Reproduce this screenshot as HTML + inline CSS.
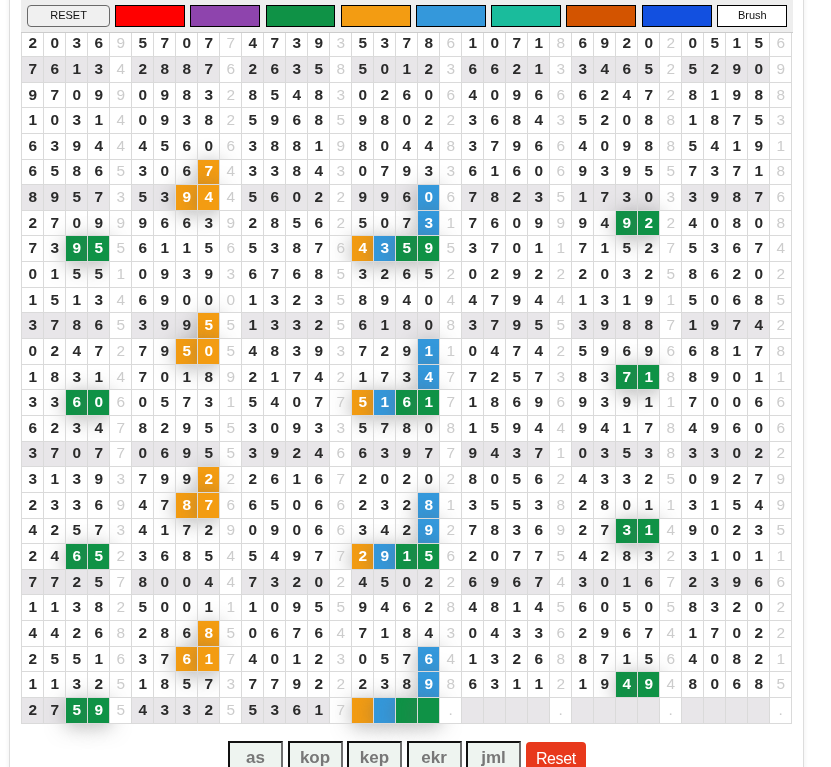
<!DOCTYPE html>
<html lang="en">
<head>
<meta charset="utf-8">
<title>Grid</title>
<style>
html,body{margin:0;padding:0;background:#fff;}
body{font-family:"Liberation Sans",sans-serif;font-size:16px;color:#222;overflow:hidden;width:831px;height:767px;position:relative;}
#wrap{position:absolute;left:9px;top:-20px;width:793px;height:900px;border:1px solid #ddd;background:#fff;box-shadow:0 0 5px rgba(0,0,0,.07);}
#hdr{position:absolute;left:21px;top:0;width:772px;height:32px;background:#eee;border-bottom:1px solid #ccc;z-index:5;}
#hdr button{position:absolute;top:5px;font-family:"Liberation Sans",sans-serif;font-size:11px;margin:0;color:#111;}
#rst{left:6.3px;width:82.5px;height:21.6px;border:1px solid #6a6a6a;border-radius:4px;background:#f0f0f0;padding:0 0 2px 0;}
.cb{width:69.9px;height:21.6px;border:1px solid #000;padding:0 0 2px 1px;color:#111;}
#grid{position:absolute;left:21px;top:30.35px;border-collapse:collapse;table-layout:fixed;width:771px;}
#grid td{width:21px;height:25.645px;padding:3.9px 0 0 .4px;border:1px solid #dadada;text-align:center;vertical-align:top;font-weight:bold;font-size:15.4px;line-height:16px;color:#2b2b2b;box-sizing:border-box;}
#grid td.s{background:#fff;color:#ccc;font-weight:normal;}
#grid tr.z td{background:#e8e6e9;}
#grid tr.z td.s{background:#fff;}
#grid td.o,#grid tr.z td.o{background:#f39c12;color:#fff;box-shadow:0 3px 20px rgba(100,100,100,.5);}
#grid td.b,#grid tr.z td.b{background:#3498db;color:#fff;box-shadow:0 3px 20px rgba(100,100,100,.5);}
#grid td.g,#grid tr.z td.g{background:#0f9246;color:#fff;box-shadow:0 3px 20px rgba(100,100,100,.5);}
#bot{position:absolute;left:0;top:741px;width:831px;height:40px;}
#bot button{position:absolute;top:0;font-family:"Liberation Sans",sans-serif;margin:0;}
.gb{width:55px;height:33px;box-sizing:border-box;border:2px solid;border-color:#111 #6e6e6e #6e6e6e #111;background:#eef4f0;color:#777;font-weight:bold;font-size:17px;padding:0;}
#rb{left:526px;top:1px !important;width:59.6px;height:33px;border:0;border-radius:4px;background:#e8391c;color:#fff;font-size:16px;letter-spacing:-.4px;padding:0;}
</style>
</head>
<body>
<div id="wrap"></div>
<div id="hdr">
<button id="rst">RESET</button>
<button class="cb" style="left:94.10px;background:#ff0000"></button>
<button class="cb" style="left:169.32px;background:#8e44ad"></button>
<button class="cb" style="left:244.54px;background:#0f9246"></button>
<button class="cb" style="left:319.76px;background:#f39c12"></button>
<button class="cb" style="left:394.98px;background:#3498db"></button>
<button class="cb" style="left:470.20px;background:#1abc9c"></button>
<button class="cb" style="left:545.42px;background:#d35400"></button>
<button class="cb" style="left:620.64px;background:#1250e0"></button>
<button class="cb" style="left:695.86px;background:#fff">Brush</button>
</div>
<table id="grid"><tbody>
<tr><td>2</td><td>0</td><td>3</td><td>6</td><td class="s">9</td><td>5</td><td>7</td><td>0</td><td>7</td><td class="s">7</td><td>4</td><td>7</td><td>3</td><td>9</td><td class="s">3</td><td>5</td><td>3</td><td>7</td><td>8</td><td class="s">6</td><td>1</td><td>0</td><td>7</td><td>1</td><td class="s">8</td><td>6</td><td>9</td><td>2</td><td>0</td><td class="s">2</td><td>0</td><td>5</td><td>1</td><td>5</td><td class="s">6</td></tr>
<tr class="z"><td>7</td><td>6</td><td>1</td><td>3</td><td class="s">4</td><td>2</td><td>8</td><td>8</td><td>7</td><td class="s">6</td><td>2</td><td>6</td><td>3</td><td>5</td><td class="s">8</td><td>5</td><td>0</td><td>1</td><td>2</td><td class="s">3</td><td>6</td><td>6</td><td>2</td><td>1</td><td class="s">3</td><td>3</td><td>4</td><td>6</td><td>5</td><td class="s">2</td><td>5</td><td>2</td><td>9</td><td>0</td><td class="s">9</td></tr>
<tr><td>9</td><td>7</td><td>0</td><td>9</td><td class="s">9</td><td>0</td><td>9</td><td>8</td><td>3</td><td class="s">2</td><td>8</td><td>5</td><td>4</td><td>8</td><td class="s">3</td><td>0</td><td>2</td><td>6</td><td>0</td><td class="s">6</td><td>4</td><td>0</td><td>9</td><td>6</td><td class="s">6</td><td>6</td><td>2</td><td>4</td><td>7</td><td class="s">2</td><td>8</td><td>1</td><td>9</td><td>8</td><td class="s">8</td></tr>
<tr><td>1</td><td>0</td><td>3</td><td>1</td><td class="s">4</td><td>0</td><td>9</td><td>3</td><td>8</td><td class="s">2</td><td>5</td><td>9</td><td>6</td><td>8</td><td class="s">5</td><td>9</td><td>8</td><td>0</td><td>2</td><td class="s">2</td><td>3</td><td>6</td><td>8</td><td>4</td><td class="s">3</td><td>5</td><td>2</td><td>0</td><td>8</td><td class="s">8</td><td>1</td><td>8</td><td>7</td><td>5</td><td class="s">3</td></tr>
<tr><td>6</td><td>3</td><td>9</td><td>4</td><td class="s">4</td><td>4</td><td>5</td><td>6</td><td>0</td><td class="s">6</td><td>3</td><td>8</td><td>8</td><td>1</td><td class="s">9</td><td>8</td><td>0</td><td>4</td><td>4</td><td class="s">8</td><td>3</td><td>7</td><td>9</td><td>6</td><td class="s">6</td><td>4</td><td>0</td><td>9</td><td>8</td><td class="s">8</td><td>5</td><td>4</td><td>1</td><td>9</td><td class="s">1</td></tr>
<tr><td>6</td><td>5</td><td>8</td><td>6</td><td class="s">5</td><td>3</td><td>0</td><td>6</td><td class="o">7</td><td class="s">4</td><td>3</td><td>3</td><td>8</td><td>4</td><td class="s">3</td><td>0</td><td>7</td><td>9</td><td>3</td><td class="s">3</td><td>6</td><td>1</td><td>6</td><td>0</td><td class="s">6</td><td>9</td><td>3</td><td>9</td><td>5</td><td class="s">5</td><td>7</td><td>3</td><td>7</td><td>1</td><td class="s">8</td></tr>
<tr class="z"><td>8</td><td>9</td><td>5</td><td>7</td><td class="s">3</td><td>5</td><td>3</td><td class="o">9</td><td class="o">4</td><td class="s">4</td><td>5</td><td>6</td><td>0</td><td>2</td><td class="s">2</td><td>9</td><td>9</td><td>6</td><td class="b">0</td><td class="s">6</td><td>7</td><td>8</td><td>2</td><td>3</td><td class="s">5</td><td>1</td><td>7</td><td>3</td><td>0</td><td class="s">3</td><td>3</td><td>9</td><td>8</td><td>7</td><td class="s">6</td></tr>
<tr><td>2</td><td>7</td><td>0</td><td>9</td><td class="s">9</td><td>9</td><td>6</td><td>6</td><td>3</td><td class="s">9</td><td>2</td><td>8</td><td>5</td><td>6</td><td class="s">2</td><td>5</td><td>0</td><td>7</td><td class="b">3</td><td class="s">1</td><td>7</td><td>6</td><td>0</td><td>9</td><td class="s">9</td><td>9</td><td>4</td><td class="g">9</td><td class="g">2</td><td class="s">2</td><td>4</td><td>0</td><td>8</td><td>0</td><td class="s">8</td></tr>
<tr><td>7</td><td>3</td><td class="g">9</td><td class="g">5</td><td class="s">5</td><td>6</td><td>1</td><td>1</td><td>5</td><td class="s">6</td><td>5</td><td>3</td><td>8</td><td>7</td><td class="s">6</td><td class="o">4</td><td class="b">3</td><td class="g">5</td><td class="g">9</td><td class="s">5</td><td>3</td><td>7</td><td>0</td><td>1</td><td class="s">1</td><td>7</td><td>1</td><td>5</td><td>2</td><td class="s">7</td><td>5</td><td>3</td><td>6</td><td>7</td><td class="s">4</td></tr>
<tr><td>0</td><td>1</td><td>5</td><td>5</td><td class="s">1</td><td>0</td><td>9</td><td>3</td><td>9</td><td class="s">3</td><td>6</td><td>7</td><td>6</td><td>8</td><td class="s">5</td><td>3</td><td>2</td><td>6</td><td>5</td><td class="s">2</td><td>0</td><td>2</td><td>9</td><td>2</td><td class="s">2</td><td>2</td><td>0</td><td>3</td><td>2</td><td class="s">5</td><td>8</td><td>6</td><td>2</td><td>0</td><td class="s">2</td></tr>
<tr><td>1</td><td>5</td><td>1</td><td>3</td><td class="s">4</td><td>6</td><td>9</td><td>0</td><td>0</td><td class="s">0</td><td>1</td><td>3</td><td>2</td><td>3</td><td class="s">5</td><td>8</td><td>9</td><td>4</td><td>0</td><td class="s">4</td><td>4</td><td>7</td><td>9</td><td>4</td><td class="s">4</td><td>1</td><td>3</td><td>1</td><td>9</td><td class="s">1</td><td>5</td><td>0</td><td>6</td><td>8</td><td class="s">5</td></tr>
<tr class="z"><td>3</td><td>7</td><td>8</td><td>6</td><td class="s">5</td><td>3</td><td>9</td><td>9</td><td class="o">5</td><td class="s">5</td><td>1</td><td>3</td><td>3</td><td>2</td><td class="s">5</td><td>6</td><td>1</td><td>8</td><td>0</td><td class="s">8</td><td>3</td><td>7</td><td>9</td><td>5</td><td class="s">5</td><td>3</td><td>9</td><td>8</td><td>8</td><td class="s">7</td><td>1</td><td>9</td><td>7</td><td>4</td><td class="s">2</td></tr>
<tr><td>0</td><td>2</td><td>4</td><td>7</td><td class="s">2</td><td>7</td><td>9</td><td class="o">5</td><td class="o">0</td><td class="s">5</td><td>4</td><td>8</td><td>3</td><td>9</td><td class="s">3</td><td>7</td><td>2</td><td>9</td><td class="b">1</td><td class="s">1</td><td>0</td><td>4</td><td>7</td><td>4</td><td class="s">2</td><td>5</td><td>9</td><td>6</td><td>9</td><td class="s">6</td><td>6</td><td>8</td><td>1</td><td>7</td><td class="s">8</td></tr>
<tr><td>1</td><td>8</td><td>3</td><td>1</td><td class="s">4</td><td>7</td><td>0</td><td>1</td><td>8</td><td class="s">9</td><td>2</td><td>1</td><td>7</td><td>4</td><td class="s">2</td><td>1</td><td>7</td><td>3</td><td class="b">4</td><td class="s">7</td><td>7</td><td>2</td><td>5</td><td>7</td><td class="s">3</td><td>8</td><td>3</td><td class="g">7</td><td class="g">1</td><td class="s">8</td><td>8</td><td>9</td><td>0</td><td>1</td><td class="s">1</td></tr>
<tr><td>3</td><td>3</td><td class="g">6</td><td class="g">0</td><td class="s">6</td><td>0</td><td>5</td><td>7</td><td>3</td><td class="s">1</td><td>5</td><td>4</td><td>0</td><td>7</td><td class="s">7</td><td class="o">5</td><td class="b">1</td><td class="g">6</td><td class="g">1</td><td class="s">7</td><td>1</td><td>8</td><td>6</td><td>9</td><td class="s">6</td><td>9</td><td>3</td><td>9</td><td>1</td><td class="s">1</td><td>7</td><td>0</td><td>0</td><td>6</td><td class="s">6</td></tr>
<tr><td>6</td><td>2</td><td>3</td><td>4</td><td class="s">7</td><td>8</td><td>2</td><td>9</td><td>5</td><td class="s">5</td><td>3</td><td>0</td><td>9</td><td>3</td><td class="s">3</td><td>5</td><td>7</td><td>8</td><td>0</td><td class="s">8</td><td>1</td><td>5</td><td>9</td><td>4</td><td class="s">4</td><td>9</td><td>4</td><td>1</td><td>7</td><td class="s">8</td><td>4</td><td>9</td><td>6</td><td>0</td><td class="s">6</td></tr>
<tr class="z"><td>3</td><td>7</td><td>0</td><td>7</td><td class="s">7</td><td>0</td><td>6</td><td>9</td><td>5</td><td class="s">5</td><td>3</td><td>9</td><td>2</td><td>4</td><td class="s">6</td><td>6</td><td>3</td><td>9</td><td>7</td><td class="s">7</td><td>9</td><td>4</td><td>3</td><td>7</td><td class="s">1</td><td>0</td><td>3</td><td>5</td><td>3</td><td class="s">8</td><td>3</td><td>3</td><td>0</td><td>2</td><td class="s">2</td></tr>
<tr><td>3</td><td>1</td><td>3</td><td>9</td><td class="s">3</td><td>7</td><td>9</td><td>9</td><td class="o">2</td><td class="s">2</td><td>2</td><td>6</td><td>1</td><td>6</td><td class="s">7</td><td>2</td><td>0</td><td>2</td><td>0</td><td class="s">2</td><td>8</td><td>0</td><td>5</td><td>6</td><td class="s">2</td><td>4</td><td>3</td><td>3</td><td>2</td><td class="s">5</td><td>0</td><td>9</td><td>2</td><td>7</td><td class="s">9</td></tr>
<tr><td>2</td><td>3</td><td>3</td><td>6</td><td class="s">9</td><td>4</td><td>7</td><td class="o">8</td><td class="o">7</td><td class="s">6</td><td>6</td><td>5</td><td>0</td><td>6</td><td class="s">6</td><td>2</td><td>3</td><td>2</td><td class="b">8</td><td class="s">1</td><td>3</td><td>5</td><td>5</td><td>3</td><td class="s">8</td><td>2</td><td>8</td><td>0</td><td>1</td><td class="s">1</td><td>3</td><td>1</td><td>5</td><td>4</td><td class="s">9</td></tr>
<tr><td>4</td><td>2</td><td>5</td><td>7</td><td class="s">3</td><td>4</td><td>1</td><td>7</td><td>2</td><td class="s">9</td><td>0</td><td>9</td><td>0</td><td>6</td><td class="s">6</td><td>3</td><td>4</td><td>2</td><td class="b">9</td><td class="s">2</td><td>7</td><td>8</td><td>3</td><td>6</td><td class="s">9</td><td>2</td><td>7</td><td class="g">3</td><td class="g">1</td><td class="s">4</td><td>9</td><td>0</td><td>2</td><td>3</td><td class="s">5</td></tr>
<tr><td>2</td><td>4</td><td class="g">6</td><td class="g">5</td><td class="s">2</td><td>3</td><td>6</td><td>8</td><td>5</td><td class="s">4</td><td>5</td><td>4</td><td>9</td><td>7</td><td class="s">7</td><td class="o">2</td><td class="b">9</td><td class="g">1</td><td class="g">5</td><td class="s">6</td><td>2</td><td>0</td><td>7</td><td>7</td><td class="s">5</td><td>4</td><td>2</td><td>8</td><td>3</td><td class="s">2</td><td>3</td><td>1</td><td>0</td><td>1</td><td class="s">1</td></tr>
<tr class="z"><td>7</td><td>7</td><td>2</td><td>5</td><td class="s">7</td><td>8</td><td>0</td><td>0</td><td>4</td><td class="s">4</td><td>7</td><td>3</td><td>2</td><td>0</td><td class="s">2</td><td>4</td><td>5</td><td>0</td><td>2</td><td class="s">2</td><td>6</td><td>9</td><td>6</td><td>7</td><td class="s">4</td><td>3</td><td>0</td><td>1</td><td>6</td><td class="s">7</td><td>2</td><td>3</td><td>9</td><td>6</td><td class="s">6</td></tr>
<tr><td>1</td><td>1</td><td>3</td><td>8</td><td class="s">2</td><td>5</td><td>0</td><td>0</td><td>1</td><td class="s">1</td><td>1</td><td>0</td><td>9</td><td>5</td><td class="s">5</td><td>9</td><td>4</td><td>6</td><td>2</td><td class="s">8</td><td>4</td><td>8</td><td>1</td><td>4</td><td class="s">5</td><td>6</td><td>0</td><td>5</td><td>0</td><td class="s">5</td><td>8</td><td>3</td><td>2</td><td>0</td><td class="s">2</td></tr>
<tr><td>4</td><td>4</td><td>2</td><td>6</td><td class="s">8</td><td>2</td><td>8</td><td>6</td><td class="o">8</td><td class="s">5</td><td>0</td><td>6</td><td>7</td><td>6</td><td class="s">4</td><td>7</td><td>1</td><td>8</td><td>4</td><td class="s">3</td><td>0</td><td>4</td><td>3</td><td>3</td><td class="s">6</td><td>2</td><td>9</td><td>6</td><td>7</td><td class="s">4</td><td>1</td><td>7</td><td>0</td><td>2</td><td class="s">2</td></tr>
<tr><td>2</td><td>5</td><td>5</td><td>1</td><td class="s">6</td><td>3</td><td>7</td><td class="o">6</td><td class="o">1</td><td class="s">7</td><td>4</td><td>0</td><td>1</td><td>2</td><td class="s">3</td><td>0</td><td>5</td><td>7</td><td class="b">6</td><td class="s">4</td><td>1</td><td>3</td><td>2</td><td>6</td><td class="s">8</td><td>8</td><td>7</td><td>1</td><td>5</td><td class="s">6</td><td>4</td><td>0</td><td>8</td><td>2</td><td class="s">1</td></tr>
<tr><td>1</td><td>1</td><td>3</td><td>2</td><td class="s">5</td><td>1</td><td>8</td><td>5</td><td>7</td><td class="s">3</td><td>7</td><td>7</td><td>9</td><td>2</td><td class="s">2</td><td>2</td><td>3</td><td>8</td><td class="b">9</td><td class="s">8</td><td>6</td><td>3</td><td>1</td><td>1</td><td class="s">2</td><td>1</td><td>9</td><td class="g">4</td><td class="g">9</td><td class="s">4</td><td>8</td><td>0</td><td>6</td><td>8</td><td class="s">5</td></tr>
<tr class="z"><td>2</td><td>7</td><td class="g">5</td><td class="g">9</td><td class="s">5</td><td>4</td><td>3</td><td>3</td><td>2</td><td class="s">5</td><td>5</td><td>3</td><td>6</td><td>1</td><td class="s">7</td><td class="o"></td><td class="b"></td><td class="g"></td><td class="g"></td><td class="s">.</td><td></td><td></td><td></td><td></td><td class="s">.</td><td></td><td></td><td></td><td></td><td class="s">.</td><td></td><td></td><td></td><td></td><td class="s">.</td></tr>
</tbody></table>
<div id="bot">
<button class="gb" style="left:228px">as</button>
<button class="gb" style="left:287.5px">kop</button>
<button class="gb" style="left:347px">kep</button>
<button class="gb" style="left:406.5px">ekr</button>
<button class="gb" style="left:466px">jml</button>
<button id="rb">Reset</button>
</div>
</body>
</html>
